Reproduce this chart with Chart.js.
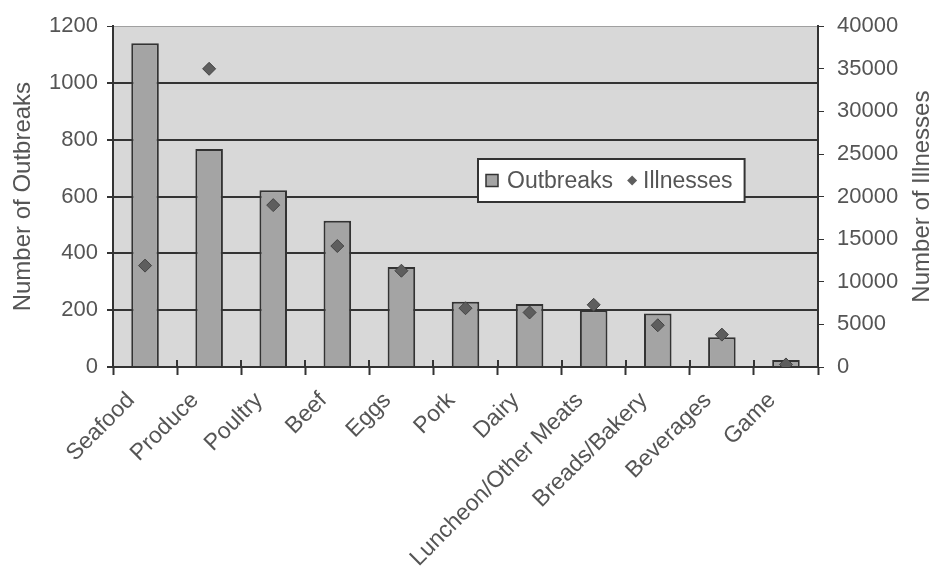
<!DOCTYPE html>
<html>
<head>
<meta charset="utf-8">
<script src="https://cdn.jsdelivr.net/npm/chart.js@4.4.0/dist/chart.umd.min.js"></script>
<style>
    html, body { margin: 0; padding: 0; background: #fff; }
    #wrap { width: 934px; height: 572px; }
</style>
</head>
<body>
<div id="wrap"><canvas id="chart" width="934" height="572"></canvas></div>
<script>
const categories = ['Seafood', 'Produce', 'Poultry', 'Beef', 'Eggs', 'Pork', 'Dairy',
    'Luncheon/Other Meats', 'Breads/Bakery', 'Beverages', 'Game'];
const outbreaks = [1140, 768, 622, 515, 352, 230, 222, 200, 188, 105, 25];
const illnesses = [11900, 35000, 19000, 14200, 11300, 6900, 6400, 7300, 4900, 3800, 300];
const outbreakTicks = [0, 200, 400, 600, 800, 1000, 1200];
const illnessTicks = [0, 5000, 10000, 15000, 20000, 25000, 30000, 35000, 40000];

const FONT = '"Liberation Sans", Arial, sans-serif';
const INK = '#333';
const TEXT = '#555';

// grey plot area like the original
const plotBackground = {
    id: 'plotBackground',
    beforeDraw(chart) {
        const a = chart.chartArea;
        const ctx = chart.ctx;
        ctx.save();
        ctx.fillStyle = '#d8d8d8';
        ctx.fillRect(a.left, a.top, a.right - a.left, a.bottom - a.top);
        ctx.restore();
    }
};

// axis titles (right one reads bottom to top), category ticks crossing the axis,
// and the boxed legend inside the plot
const extras = {
    id: 'extras',
    afterDraw(chart) {
        const a = chart.chartArea;
        const ctx = chart.ctx;
        const midY = (a.top + a.bottom) / 2;
        ctx.save();

        const xs = chart.scales.x;
        ctx.strokeStyle = INK;
        ctx.lineWidth = 2;
        for (let i = 0; i <= categories.length; i++) {
            const px = Math.round(xs.left + i * xs.width / categories.length);
            ctx.beginPath();
            ctx.moveTo(px, a.bottom - 7);
            ctx.lineTo(px, a.bottom);
            ctx.stroke();
        }

        ctx.font = '24px ' + FONT;
        ctx.fillStyle = TEXT;
        ctx.textAlign = 'center';
        ctx.textBaseline = 'middle';
        [[23, 'Number of Outbreaks'], [922, 'Number of Illnesses']].forEach(([x, t]) => {
            ctx.save();
            ctx.translate(x, midY);
            ctx.rotate(-Math.PI / 2);
            ctx.fillText(t, 0, 0);
            ctx.restore();
        });

        const ds = chart.data.datasets;
        const bar = ds.find(d => d.type === 'bar');
        const pts = ds.find(d => d.type === 'line');
        ctx.font = '23px ' + FONT;
        ctx.textAlign = 'left';
        const left = 478, top = 159, h = 43, cy = top + h / 2;
        let x = left + 8;
        const w1 = ctx.measureText(bar.label).width;
        const w2 = ctx.measureText(pts.label).width;
        const width = 8 + 12 + 9 + w1 + 14 + 10 + 6 + w2 + 12;

        ctx.fillStyle = '#fff';
        ctx.fillRect(left, top, width, h);
        ctx.strokeStyle = INK;
        ctx.lineWidth = 2;
        ctx.strokeRect(left, top, width, h);

        ctx.fillStyle = bar.backgroundColor;
        ctx.fillRect(x, cy - 6, 12, 12);
        ctx.lineWidth = 1.5;
        ctx.strokeRect(x, cy - 6, 12, 12);
        x += 12 + 9;
        ctx.fillStyle = TEXT;
        ctx.fillText(bar.label, x, cy + 1);
        x += w1 + 14;

        ctx.fillStyle = pts.backgroundColor;
        ctx.beginPath();
        ctx.moveTo(x + 5, cy - 5);
        ctx.lineTo(x + 10, cy);
        ctx.lineTo(x + 5, cy + 5);
        ctx.lineTo(x, cy);
        ctx.closePath();
        ctx.fill();
        x += 10 + 6;
        ctx.fillStyle = TEXT;
        ctx.fillText(pts.label, x, cy + 1);
        ctx.restore();
    }
};

const chart = new Chart('chart', {
    data: {
        labels: categories,
        datasets: [{
            type: 'line',
            label: 'Illnesses',
            data: illnesses,
            yAxisID: 'y2',
            showLine: false,
            pointStyle: 'rectRot',
            pointRadius: 6.5,
            pointBackgroundColor: '#5e5e5e',
            pointBorderColor: '#444',
            pointBorderWidth: 1,
            backgroundColor: '#5e5e5e',
            order: 1
        }, {
            type: 'bar',
            label: 'Outbreaks',
            data: outbreaks,
            yAxisID: 'y',
            backgroundColor: '#a4a4a4',
            borderColor: INK,
            borderWidth: 2,
            categoryPercentage: 1,
            barPercentage: 0.43,
            order: 2
        }]
    },
    options: {
        responsive: false,
        animation: false,
        layout: { padding: { top: 26, left: 0, right: 0, bottom: 0 } },
        plugins: {
            legend: { display: false },
            tooltip: { enabled: false }
        },
        scales: {
            x: {
                afterFit: s => { s.height = 205; },
                grid: { offset: true, drawOnChartArea: false, tickLength: 8, tickColor: INK, tickWidth: 2 },
                border: { color: INK, width: 2 },
                ticks: {
                    autoSkip: false,
                    maxRotation: 45,
                    minRotation: 45,
                    labelOffset: -14,
                    padding: 12,
                    color: TEXT,
                    font: { family: FONT, size: 23 }
                }
            },
            y: {
                position: 'left',
                min: 0,
                max: 1200,
                afterFit: s => { s.width = 113; },
                afterBuildTicks: s => { s.ticks = outbreakTicks.map(v => ({ value: v })); },
                grid: {
                    color: c => c.tick && c.tick.value === 1200 ? '#a0a0a0' : INK,
                    lineWidth: c => c.tick && c.tick.value === 1200 ? 1 : 2,
                    tickLength: 6,
                    tickColor: INK
                },
                border: { color: INK, width: 2 },
                ticks: {
                    padding: 9,
                    color: TEXT,
                    font: { family: FONT, size: 22 },
                    callback: v => String(v)
                }
            },
            y2: {
                position: 'right',
                min: 0,
                max: 40000,
                afterFit: s => { s.width = 116; },
                afterBuildTicks: s => { s.ticks = illnessTicks.map(v => ({ value: v })); },
                grid: { drawOnChartArea: false, tickLength: 6, tickColor: INK },
                border: { color: INK, width: 2 },
                ticks: {
                    padding: 13,
                    color: TEXT,
                    font: { family: FONT, size: 22 },
                    callback: v => String(v)
                }
            }
        }
    },
    plugins: [plotBackground, extras]
});
</script>
</body>
</html>
